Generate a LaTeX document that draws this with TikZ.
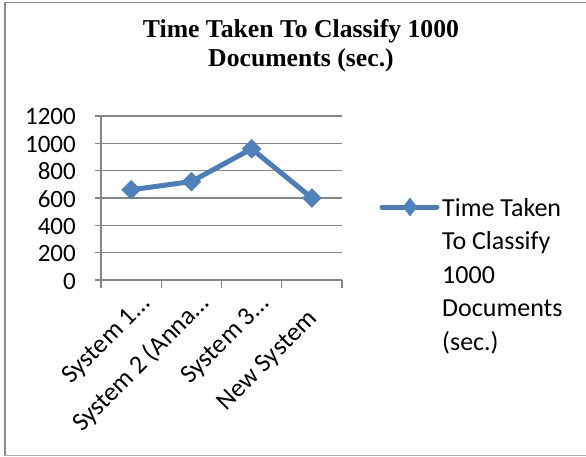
\documentclass[tikz,border=0pt]{standalone}
\usepackage{fontspec}
\setmainfont{Carlito}
\newfontfamily\titlefont{Liberation Serif}
\usetikzlibrary{shapes.geometric}
\definecolor{serline}{RGB}{74,126,187}
\definecolor{serfill}{RGB}{79,129,189}
\definecolor{gridgray}{RGB}{134,134,134}
\definecolor{framegray}{RGB}{140,140,140}
\tikzset{
  gridline/.style={draw=gridgray, line width=1.4pt},
  axislabel/.style={inner sep=0pt, font=\fontsize{25}{30}\selectfont},
  catlabel/.style={inner sep=0pt, rotate=45, anchor=base east, font=\fontsize{26}{30}\selectfont},
  series/.style={draw=serline, line width=5pt, line join=round},
  marker/.style={diamond, fill=serfill, draw=serline, line width=0.5pt, inner sep=0pt, minimum width=19pt, minimum height=19pt},
  legmarker/.style={diamond, fill=serfill, draw=serline, line width=0.5pt, inner sep=0pt, minimum width=14pt, minimum height=18pt},
}
\begin{document}
\begin{tikzpicture}[x=1pt,y=-1pt]
\useasboundingbox (0,0) rectangle (586,456);
% frame
\draw[framegray, line width=1.5pt] (5,456) -- (5,2.3) -- (586,2.3);
\draw[framegray!70, line width=1.2pt] (5,455.3) -- (586,455.3);
% title
\node[inner sep=0pt, align=center, anchor=base, font=\titlefont\bfseries\fontsize{25.7}{29.5}\selectfont] (title) at (301,66.5) {Time Taken To Classify 1000\\Documents (sec.)};
% gridlines and y labels
\foreach \v [count=\i] in {0,200,400,600,800,1000,1200} {
  \pgfmathsetmacro{\yy}{280-\v*0.136667}
  \draw[gridline] (95,\yy) -- (342,\yy);
  \node[axislabel, anchor=base east] (ylab\i) at (76,\yy+9) {\v};
}
% axes
\draw[gridline] (101,116) -- (101,280);
\foreach \xx in {101,161.25,221.5,281.75,342} {
  \draw[gridline] (\xx,280) -- (\xx,288);
}
% category labels
\node[catlabel] (c1) at (151,305) {System 1…};
\node[catlabel] (c2) at (210,305) {System 2 (Anna…};
\node[catlabel] (c3) at (270,305) {System 3…};
\node[catlabel] (c4) at (318,320) {New System};
% data
\coordinate (p1) at (131.1,189.8);
\coordinate (p2) at (191.4,181.6);
\coordinate (p3) at (251.6,148.8);
\coordinate (p4) at (311.9,198.0);
\draw[series] (p1) -- (p2) -- (p3) -- (p4);
\node[marker] (m1) at (p1) {};
\node[marker] (m2) at (p2) {};
\node[marker] (m3) at (p3) {};
\node[marker] (m4) at (p4) {};
% legend
\coordinate (la) at (382,207);
\coordinate (lb) at (437,207);
\draw[series, line cap=round] (la) -- (lb);
\node[legmarker] (lm) at (410,207) {};
\node[axislabel, align=left, anchor=base west, font=\fontsize{26}{33.5}\selectfont] (legtext) at (442,350) {Time Taken\\To Classify\\1000\\Documents\\(sec.)};
\end{tikzpicture}
\end{document}
